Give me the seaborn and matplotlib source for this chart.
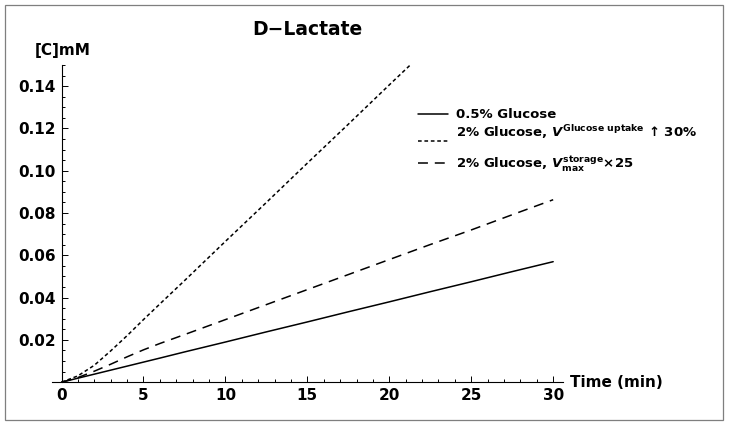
import numpy as np
import pandas as pd
import matplotlib
matplotlib.use("Agg")
import matplotlib.pyplot as plt
import seaborn as sns
from matplotlib.legend import Legend
from matplotlib.ticker import MultipleLocator, FixedLocator, FormatStrFormatter
from matplotlib.patches import Rectangle

# Data
time_min = [0, 1, 2, 3, 4, 5, 6, 7.5, 10, 12.5, 15, 17.5, 20, 22.5, 25, 27.5, 30]
glucose_05 = [0, 0.0019, 0.0038, 0.0057, 0.0076, 0.0095, 0.0114, 0.0143, 0.019,
              0.0238, 0.0285, 0.0333, 0.038, 0.0428, 0.0475, 0.0523, 0.057]
glucose_uptake = [0, 0.003, 0.008, 0.0148, 0.022, 0.0296, 0.037, 0.048, 0.0666,
                  0.085, 0.1036, 0.122, 0.1406, 0.159, 0.1776, 0.196, 0.2146]
glucose_storage = [0, 0.0022, 0.0052, 0.0085, 0.012, 0.0153, 0.0183, 0.0225, 0.0296,
                   0.0367, 0.0438, 0.0509, 0.058, 0.0651, 0.072, 0.0792, 0.0863]

labels = [
    "0.5% Glucose",
    r"2% Glucose, $V^{\mathrm{Glucose\ uptake}}$ ↑ 30%",
    r"2% Glucose, $V_{\mathrm{max}}^{\mathrm{storage}}$×25",
]

df = pd.DataFrame({
    "time": time_min * 3,
    "conc": glucose_05 + glucose_uptake + glucose_storage,
    "series": [labels[0]] * len(time_min) + [labels[1]] * len(time_min)
              + [labels[2]] * len(time_min),
})

sns.set_style("white")
plt.rcParams["font.family"] = ["DejaVu Sans"]
plt.rcParams["font.weight"] = "bold"
plt.rcParams["text.color"] = "black"
plt.rcParams["mathtext.fontset"] = "custom"
plt.rcParams["mathtext.rm"] = "DejaVu Sans:bold"
plt.rcParams["mathtext.it"] = "DejaVu Sans:italic:bold"
plt.rcParams["mathtext.bf"] = "DejaVu Sans:bold"

fig = plt.figure(figsize=(7.29, 4.25), dpi=100)
ax = fig.add_axes([0.0709, 0.1007, 0.7014, 0.7463])

sns.lineplot(data=df, x="time", y="conc", hue="series", style="series",
             palette=["black"] * 3,
             dashes={labels[0]: "", labels[1]: (2.4, 1.8), labels[2]: (6.5, 4.5)},
             linewidth=1.1, ax=ax, legend=True)

ax.set_xlim(-0.6, 30.6)
ax.set_ylim(0, 0.150)
ax.spines["top"].set_visible(False)
ax.spines["right"].set_visible(False)
ax.spines["left"].set_position(("data", 0))
for s in ("left", "bottom"):
    ax.spines[s].set_linewidth(0.8)
    ax.spines[s].set_color("black")

ax.xaxis.set_major_locator(FixedLocator([0, 5, 10, 15, 20, 25, 30]))
ax.xaxis.set_minor_locator(FixedLocator(np.arange(0, 31, 1)))
ax.yaxis.set_major_locator(FixedLocator([0.02, 0.04, 0.06, 0.08, 0.10, 0.12, 0.14]))
ax.yaxis.set_minor_locator(MultipleLocator(0.005))
ax.yaxis.set_major_formatter(FormatStrFormatter("%.2f"))
ax.tick_params(which="both", direction="in", colors="black", width=0.7,
               bottom=True, left=True)
ax.tick_params(which="major", length=4.5, labelsize=11, pad=4)
ax.tick_params(which="minor", length=2.5)
for lab in ax.get_xticklabels() + ax.get_yticklabels():
    lab.set_fontweight("bold")

ax.set_xlabel("")
ax.set_ylabel("")
fig.text(0.782, 0.1007, "Time (min)", fontsize=11, fontweight="bold",
         ha="left", va="center")
fig.text(0.048, 0.882, "[C]mM", fontsize=11, fontweight="bold",
         ha="left", va="center")
fig.text(0.421, 0.93, "D\u2212Lactate", fontsize=13.5, fontweight="bold",
         ha="center", va="center")

# legend: one small legend per entry so each row sits where the reference has it;
# the second row's key sits below its text, as in the reference
handles, labs = ax.get_legend_handles_labels()
ax.get_legend().remove()
row_y = [115, 142, 164]
row_text = [labs[0], "", labs[2]]
for h, t, y in zip(handles, row_text, row_y):
    leg = Legend(ax, [h], [t], loc="center left",
                 bbox_to_anchor=(418 / 729, 1 - y / 425),
                 bbox_transform=fig.transFigure, frameon=False,
                 fontsize=9.5, handlelength=2.3, handletextpad=0.55,
                 borderpad=0, borderaxespad=0)
    ax.add_artist(leg)
fig.text(456 / 729, 1 - 137 / 425, labs[1], fontsize=9.5, fontweight="bold",
         ha="left", va="baseline")

fig.patches.append(Rectangle((5 / 729, 5 / 425), 718 / 729, 415 / 425,
                             transform=fig.transFigure, fill=False,
                             edgecolor="#7f7f7f", linewidth=0.9))

fig.savefig("out.png", dpi=100)
plt.close(fig)
